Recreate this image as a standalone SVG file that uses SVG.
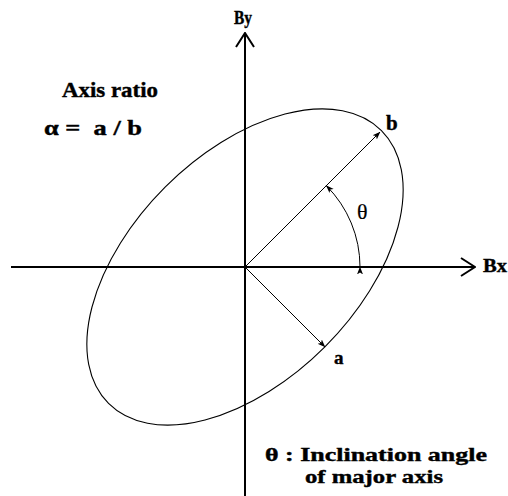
<svg xmlns="http://www.w3.org/2000/svg" width="508" height="496" viewBox="0 0 508 496">
<defs>
<style>
text{font-family:'Liberation Serif','Times New Roman',Times,serif;font-weight:700;fill:#000;stroke:#000;stroke-width:0.4}
.axis{stroke:#000;stroke-width:2;fill:none}
.thin{stroke:#000;stroke-width:1;fill:none}
.ell{stroke:#000;stroke-width:1.1;fill:none}
</style>
<marker id="big" markerUnits="userSpaceOnUse" viewBox="0 0 16 20" refX="15" refY="10" markerWidth="16" markerHeight="20" orient="auto">
<path d="M1,1 L15,10 L1,19" fill="none" stroke="#000" stroke-width="2"/>
</marker>
<marker id="small" markerUnits="userSpaceOnUse" viewBox="0 0 8 8" refX="7.5" refY="4" markerWidth="8" markerHeight="8" orient="auto">
<path d="M0,1 L8,4 L0,7 L2,4 Z" fill="#000"/>
</marker>
</defs>
<g id="ellipse">
<ellipse class="ell" cx="245" cy="267" rx="193" ry="113" transform="rotate(-45 245 267)"/>
</g>
<g id="connectors">
<line id="bx-axis" class="axis" x1="11" y1="267" x2="475" y2="267" marker-end="url(#big)"/>
<line id="by-axis" class="axis" x1="245" y1="496" x2="245" y2="33" marker-end="url(#big)"/>
<line id="major" class="thin" x1="245" y1="267" x2="380" y2="132" marker-end="url(#small)"/>
<line id="minor" class="thin" x1="245" y1="267" x2="325" y2="347" marker-end="url(#small)"/>
<path id="theta-arc" class="thin" d="M360,267 A115,115 0 0 0 326.3,185.7" marker-start="url(#small)" marker-end="url(#small)"/>
</g>
<g id="labels">
<text x="234" y="24" font-size="18" textLength="18" lengthAdjust="spacingAndGlyphs">By</text>
<text x="483" y="272" font-size="19" textLength="24" lengthAdjust="spacingAndGlyphs">Bx</text>
<text x="62" y="97" font-size="21" textLength="96" lengthAdjust="spacingAndGlyphs">Axis ratio</text>
<text x="44" y="135" font-size="21" textLength="98" lengthAdjust="spacingAndGlyphs" xml:space="preserve">α =  a / b</text>
<text x="386" y="130" font-size="21">b</text>
<text x="334" y="364" font-size="19">a</text>
<text x="357" y="219" font-size="22" style="font-weight:400;stroke-width:0.2">θ</text>
<text x="265" y="461" font-size="19" textLength="222" lengthAdjust="spacingAndGlyphs">θ : Inclination angle</text>
<text x="305" y="483" font-size="19" textLength="138" lengthAdjust="spacingAndGlyphs">of major axis</text>
</g>
</svg>
